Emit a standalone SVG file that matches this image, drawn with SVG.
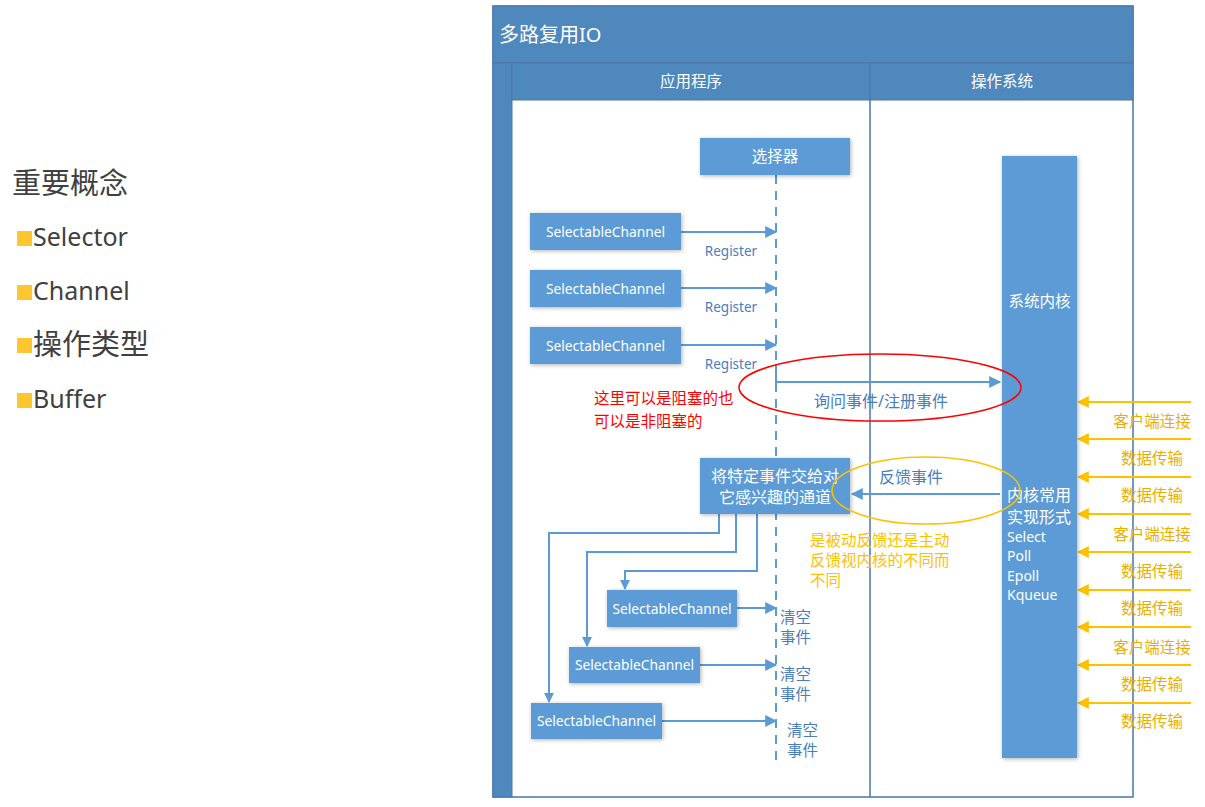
<svg xmlns="http://www.w3.org/2000/svg" width="1205" height="807" viewBox="0 0 1205 807">
<defs>
<filter id="sh" x="-20%" y="-20%" width="140%" height="140%">
<feDropShadow dx="1" dy="1" stdDeviation="2" flood-color="#000" flood-opacity="0.3"/>
</filter>
<marker id="ab" viewBox="0 0 10 10" refX="9" refY="5" markerWidth="10" markerHeight="10" markerUnits="userSpaceOnUse" orient="auto">
<path d="M0,0 L10,5 L0,10 z" fill="#5B9BD5"/>
</marker>
<marker id="ab2" viewBox="0 0 10 10" refX="9" refY="5" markerWidth="14" markerHeight="12" markerUnits="userSpaceOnUse" orient="auto">
<path d="M0,0 L10,5 L0,10 z" fill="#5B9BD5"/>
</marker>
<marker id="ao" viewBox="0 0 10 10" refX="9" refY="5" markerWidth="12" markerHeight="12" markerUnits="userSpaceOnUse" orient="auto">
<path d="M0,0 L10,5 L0,10 z" fill="#FFC000"/>
</marker>
</defs>
<style>
text{font-family:"Noto Sans","Open Sans","Noto Sans CJK SC",sans-serif}
.box{fill:#5B9BD5;filter:url(#sh)}
.wt{fill:#fff;font-size:13.8px;text-anchor:middle}
.wc{fill:#fff;font-size:15.5px;text-anchor:middle}
.wtl{fill:#fff;font-size:14px}
.wcl{fill:#fff;font-size:15.5px}
.bl{fill:#4A7EBB;font-size:13.5px}
.bc{fill:#4A7EBB;font-size:15.5px}
.conn{stroke:#5B9BD5;stroke-width:2;fill:none}
.oconn{stroke:#FFC000;stroke-width:2;fill:none}
.ot{fill:#EBAE00;font-size:15.5px;text-anchor:middle}
.lt{fill:#404040;font-size:25px}
.lc{fill:#404040;font-size:29px}
.sq{fill:#FFC62F}
</style>
<rect width="1205" height="807" fill="#fff"/>
<g id="left-notes">
<text x="12" y="194" class="lc">重要概念</text>
<rect class="sq" x="17" y="231" width="15" height="15"/><text x="33" y="246" class="lt">Selector</text>
<rect class="sq" x="17" y="285" width="15" height="15"/><text x="33" y="300" class="lt">Channel</text>
<rect class="sq" x="17" y="338" width="15" height="15"/><text x="33" y="355" class="lc">操作类型</text>
<rect class="sq" x="17" y="393" width="15" height="15"/><text x="33" y="408" class="lt">Buffer</text>
</g>
<g id="frame">
<rect x="493" y="6" width="640" height="791" fill="#fff" stroke="#4A76A8" stroke-width="1.5"/>
<rect x="493" y="6" width="640" height="57" fill="#4F88BC" stroke="#4A76A8" stroke-width="1"/>
<text x="499" y="42" fill="#fff" style="font-size:20px">多路复用IO</text>
<rect x="493" y="63" width="19" height="734" fill="#4F88BC" stroke="#4A76A8" stroke-width="1"/>
<rect x="512" y="63" width="358" height="37" fill="#4F88BC" stroke="#4A76A8" stroke-width="1"/>
<rect x="870" y="63" width="263" height="37" fill="#4F88BC" stroke="#4A76A8" stroke-width="1"/>
<text x="691" y="87" class="wc">应用程序</text>
<text x="1002" y="87" class="wc">操作系统</text>
<line x1="870" y1="100" x2="870" y2="797" stroke="#4A76A8" stroke-width="1.5"/>
</g>
<g id="connectors">
<line x1="776" y1="175" x2="776" y2="760" stroke="#5B9BD5" stroke-width="2" stroke-dasharray="9,7"/>
<line class="conn" x1="681" y1="232" x2="776" y2="232" marker-end="url(#ab2)"/>
<line class="conn" x1="681" y1="288" x2="776" y2="288" marker-end="url(#ab2)"/>
<line class="conn" x1="681" y1="345" x2="776" y2="345" marker-end="url(#ab2)"/>
<polyline class="conn" points="776,364 776,382 1000,382" marker-end="url(#ab2)"/>
<line class="conn" x1="1000" y1="494" x2="852" y2="494" marker-end="url(#ab2)"/>
<polyline class="conn" points="757,514 757,571 625,571 625,589" marker-end="url(#ab)"/>
<polyline class="conn" points="736,514 736,552 587,552 587,646" marker-end="url(#ab)"/>
<polyline class="conn" points="719,514 719,533 549,533 549,702" marker-end="url(#ab)"/>
<line class="conn" x1="737" y1="608" x2="776" y2="608" marker-end="url(#ab2)"/>
<line class="conn" x1="700" y1="665" x2="776" y2="665" marker-end="url(#ab2)"/>
<line class="conn" x1="662" y1="721" x2="776" y2="721" marker-end="url(#ab2)"/>
<line class="oconn" x1="1191" y1="402" x2="1078" y2="402" marker-end="url(#ao)"/>
<line class="oconn" x1="1191" y1="439" x2="1078" y2="439" marker-end="url(#ao)"/>
<line class="oconn" x1="1191" y1="477" x2="1078" y2="477" marker-end="url(#ao)"/>
<line class="oconn" x1="1191" y1="514" x2="1078" y2="514" marker-end="url(#ao)"/>
<line class="oconn" x1="1191" y1="552" x2="1078" y2="552" marker-end="url(#ao)"/>
<line class="oconn" x1="1191" y1="590" x2="1078" y2="590" marker-end="url(#ao)"/>
<line class="oconn" x1="1191" y1="627" x2="1078" y2="627" marker-end="url(#ao)"/>
<line class="oconn" x1="1191" y1="665" x2="1078" y2="665" marker-end="url(#ao)"/>
<line class="oconn" x1="1191" y1="703" x2="1078" y2="703" marker-end="url(#ao)"/>
</g>
<g id="labels">
<text x="731" y="256" class="bl" text-anchor="middle">Register</text>
<text x="731" y="312" class="bl" text-anchor="middle">Register</text>
<text x="731" y="369" class="bl" text-anchor="middle">Register</text>
<text x="881" y="407" class="bc" text-anchor="middle" style="font-size:16px">询问事件/注册事件</text>
<text x="911" y="483" class="bc" text-anchor="middle" style="font-size:16px">反馈事件</text>
<text x="780" y="623" class="bc">清空</text>
<text x="780" y="643" class="bc">事件</text>
<text x="780" y="680" class="bc">清空</text>
<text x="780" y="700" class="bc">事件</text>
<text x="787" y="736" class="bc">清空</text>
<text x="787" y="756" class="bc">事件</text>
<text x="1152" y="427" class="ot">客户端连接</text>
<text x="1152" y="464" class="ot">数据传输</text>
<text x="1152" y="501" class="ot">数据传输</text>
<text x="1152" y="540" class="ot">客户端连接</text>
<text x="1152" y="577" class="ot">数据传输</text>
<text x="1152" y="614" class="ot">数据传输</text>
<text x="1152" y="653" class="ot">客户端连接</text>
<text x="1152" y="690" class="ot">数据传输</text>
<text x="1152" y="727" class="ot">数据传输</text>
</g>
<g id="selector">
<rect class="box" x="700" y="138" width="150" height="37"/>
<text x="775" y="162" class="wc">选择器</text>
</g>
<g id="channel-1"><rect class="box" x="530" y="213" width="151" height="37"/><text x="605.5" y="236.5" class="wt">SelectableChannel</text></g>
<g id="channel-2"><rect class="box" x="530" y="270" width="151" height="37"/><text x="605.5" y="293.5" class="wt">SelectableChannel</text></g>
<g id="channel-3"><rect class="box" x="530" y="327" width="151" height="37"/><text x="605.5" y="350.5" class="wt">SelectableChannel</text></g>
<g id="dispatch">
<rect class="box" x="700" y="458" width="150" height="56"/>
<text x="775" y="482" class="wc" style="font-size:16px">将特定事件交给对</text>
<text x="775" y="503" class="wc" style="font-size:16px">它感兴趣的通道</text>
</g>
<g id="channel-4"><rect class="box" x="607" y="590" width="130" height="37"/><text x="672" y="613.5" class="wt">SelectableChannel</text></g>
<g id="channel-5"><rect class="box" x="569" y="647" width="131" height="36"/><text x="634.5" y="670" class="wt">SelectableChannel</text></g>
<g id="channel-6"><rect class="box" x="531" y="703" width="131" height="36"/><text x="596.5" y="726" class="wt">SelectableChannel</text></g>
<g id="kernel">
<rect class="box" x="1002" y="156" width="75" height="602"/>
<text x="1039.5" y="307" class="wc">系统内核</text>
<text x="1007" y="501" class="wcl" style="font-size:16px">内核常用</text>
<text x="1007" y="523" class="wcl" style="font-size:16px">实现形式</text>
<text x="1007" y="542" class="wtl">Select</text>
<text x="1007" y="561" class="wtl">Poll</text>
<text x="1007" y="581" class="wtl">Epoll</text>
<text x="1007" y="600" class="wtl">Kqueue</text>
</g>
<g id="notes">
<ellipse cx="880" cy="387.5" rx="141" ry="33.5" fill="none" stroke="#FF0000" stroke-width="1.5"/>
<ellipse cx="926" cy="490.5" rx="94" ry="33.5" fill="none" stroke="#FFC000" stroke-width="1.5"/>
<text x="594" y="404" fill="#FF0000" style="font-size:15.5px">这里可以是阻塞的也</text>
<text x="594" y="427" fill="#FF0000" style="font-size:15.5px">可以是非阻塞的</text>
<text x="810" y="546" fill="#FFC000" style="font-size:15.5px">是被动反馈还是主动</text>
<text x="810" y="566" fill="#FFC000" style="font-size:15.5px">反馈视内核的不同而</text>
<text x="810" y="586" fill="#FFC000" style="font-size:15.5px">不同</text>
</g>
</svg>
